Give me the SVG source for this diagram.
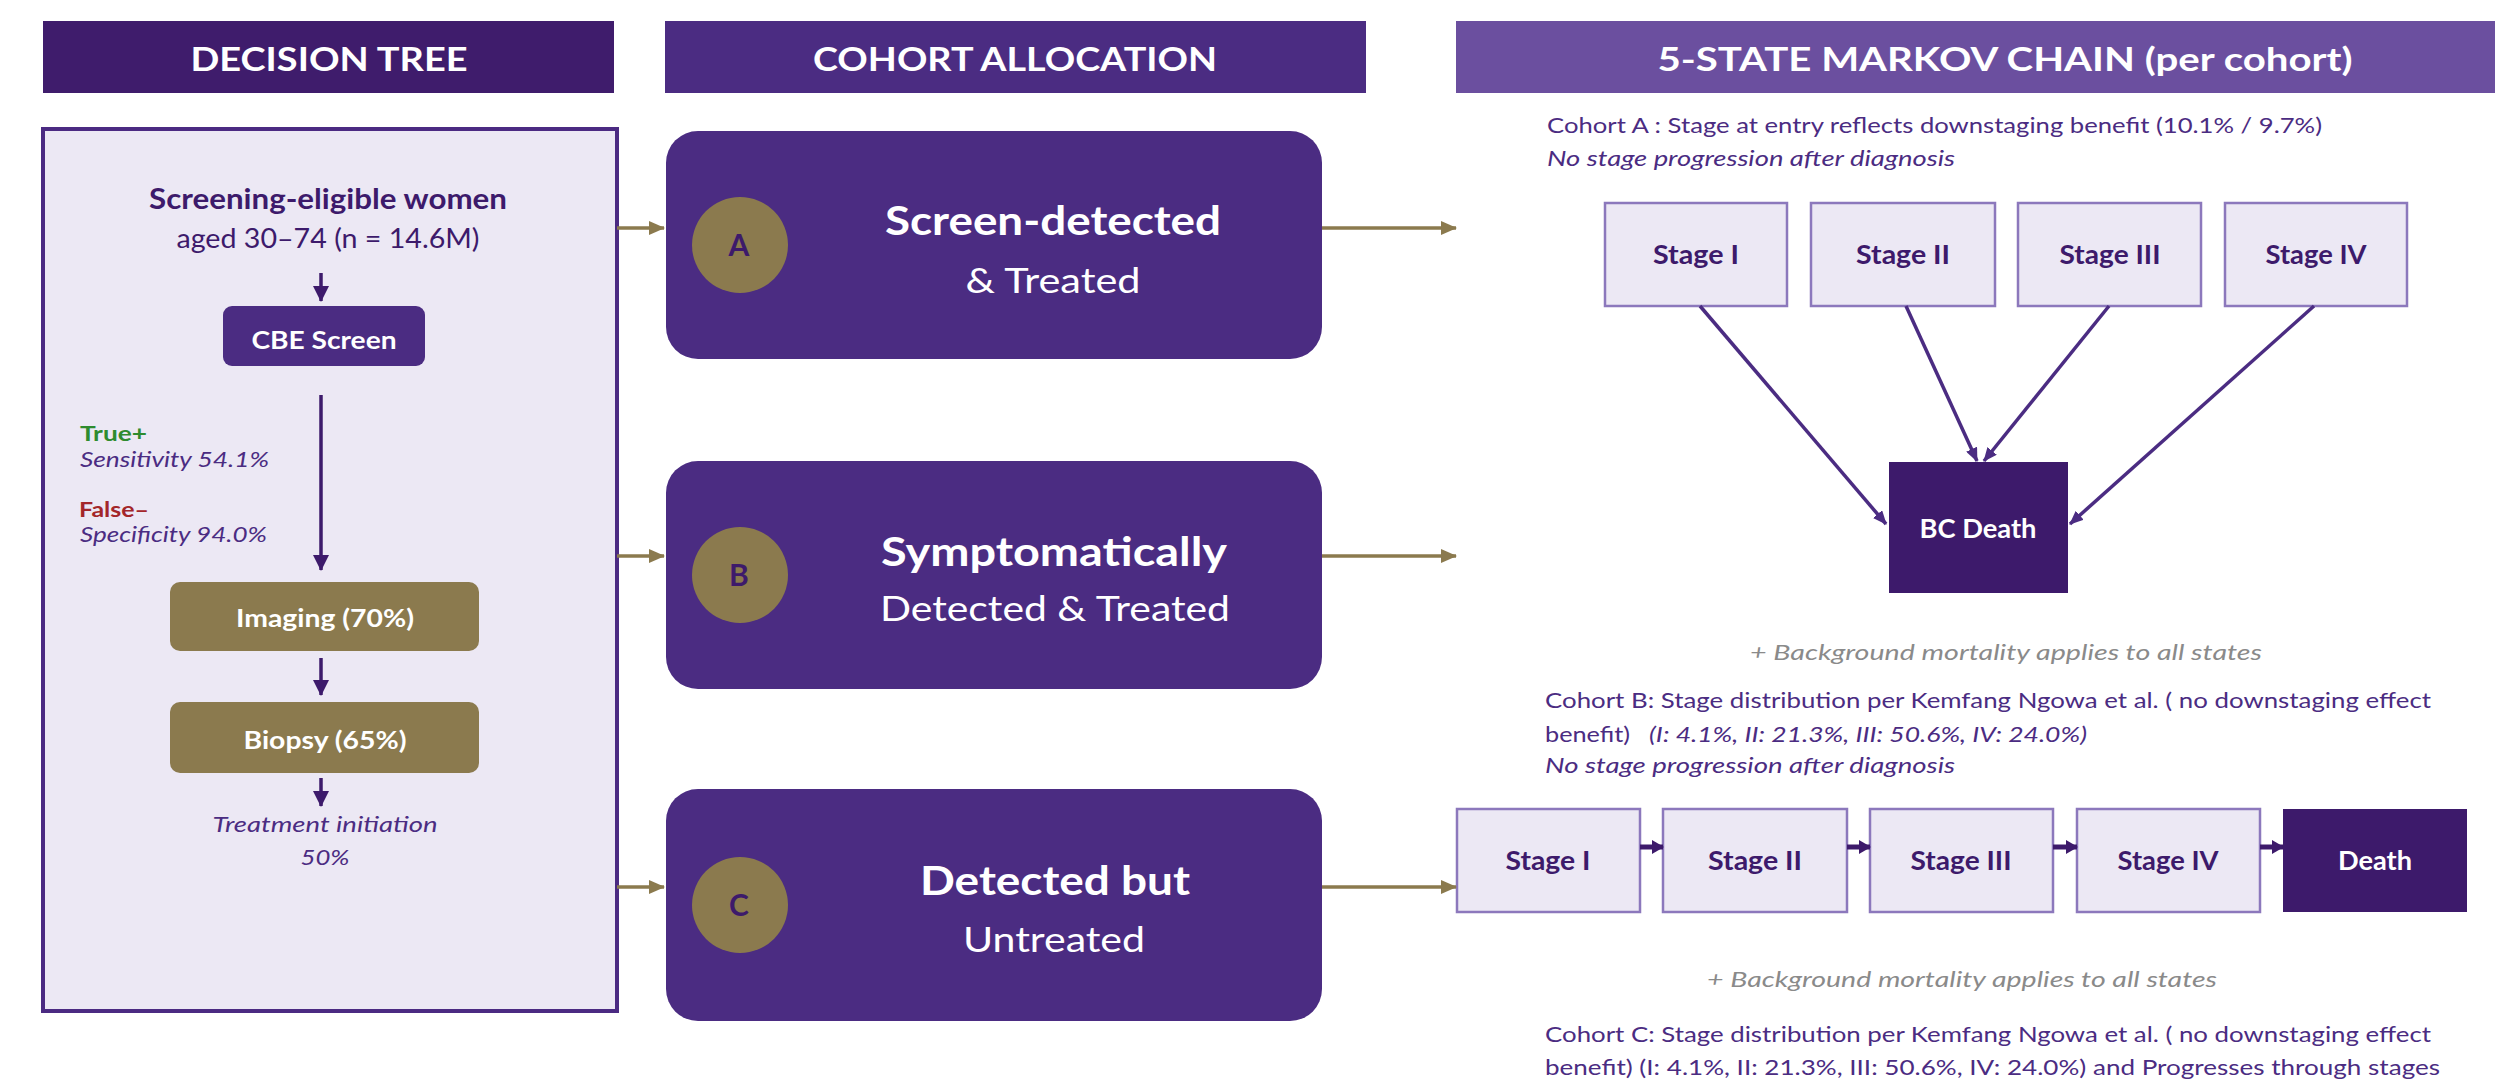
<svg xmlns="http://www.w3.org/2000/svg" width="2495" height="1079" viewBox="0 0 2495 1079">
  <style>
    text { font-family: Lato, "Open Sans", "Liberation Sans", sans-serif; }
    .hdr { font-weight: 700; font-size: 33px; fill: #ffffff; text-anchor: middle; }
    .panel { fill: #ECE8F4; stroke: #4B2A82; stroke-width: 4; }
    .tree-t { fill: #3D1A6B; text-anchor: middle; }
    .btn { fill: #4B2C82; }
    .olive { fill: #8B7A4E; }
    .wt { fill: #ffffff; text-anchor: middle; }
    .note { font-style: italic; font-size: 22px; fill: #4B2C82; }
    .cohort { fill: #4B2C82; }
    .circ { fill: #8B7A4E; }
    .letter { font-weight: 700; font-size: 30px; fill: #3D1A6B; text-anchor: middle; }
    .stage { fill: #ECE8F4; stroke: #8C78BC; stroke-width: 2.5; }
    .stage-t { font-weight: 700; font-size: 26px; fill: #3D1A6B; text-anchor: middle; }
    .dead { fill: #3D1A6B; }
    .dead-t { font-weight: 700; font-size: 26px; fill: #ffffff; text-anchor: middle; }
    .desc { font-size: 22px; fill: #4B2C82; }
    .desc-i { font-size: 22px; font-style: italic; fill: #4B2C82; }
    .bg { font-size: 22px; font-style: italic; fill: #8A8A8A; text-anchor: middle; }
    .lnk-olive { stroke: #8B7A4E; stroke-width: 3.5; fill: none; marker-end: url(#headOlive); }
    .lnk-tree { stroke: #3D1A6B; stroke-width: 3.5; fill: none; marker-end: url(#headTree); }
    .lnk-mk { stroke: #4B2C82; stroke-width: 3.5; fill: none; marker-end: url(#headMk); }
    .lnk-chain { stroke: #3D1A6B; stroke-width: 5; fill: none; marker-end: url(#headChain); }
  </style>
  <defs>
    <marker id="headOlive" markerUnits="userSpaceOnUse" markerWidth="16" markerHeight="14" refX="15" refY="7" orient="auto">
      <path d="M0,0 L16,7 L0,14 z" fill="#8B7A4E"/>
    </marker>
    <marker id="headTree" markerUnits="userSpaceOnUse" markerWidth="16" markerHeight="16" refX="15" refY="8" orient="auto">
      <path d="M0,0 L16,8 L0,16 z" fill="#3D1A6B"/>
    </marker>
    <marker id="headMk" markerUnits="userSpaceOnUse" markerWidth="14" markerHeight="12" refX="13" refY="6" orient="auto">
      <path d="M0,0 L14,6 L0,12 z" fill="#4B2C82"/>
    </marker>
    <marker id="headChain" markerUnits="userSpaceOnUse" markerWidth="12" markerHeight="14" refX="11" refY="7" orient="auto">
      <path d="M0,0 L12,7 L0,14 z" fill="#3D1A6B"/>
    </marker>
  </defs>

  <rect width="2495" height="1079" fill="#ffffff"/>

  <!-- column headers -->
  <g id="header-tree">
    <rect x="43" y="21" width="571" height="72" fill="#3F1C6C"/>
    <text class="hdr" x="329" y="71" textLength="277" lengthAdjust="spacingAndGlyphs">DECISION TREE</text>
  </g>
  <g id="header-cohort">
    <rect x="665" y="21" width="701" height="72" fill="#4B2C82"/>
    <text class="hdr" x="1015" y="71" textLength="404" lengthAdjust="spacingAndGlyphs">COHORT ALLOCATION</text>
  </g>
  <g id="header-markov">
    <rect x="1456" y="21" width="1039" height="72" fill="#6B4F9F"/>
    <text class="hdr" x="2005" y="71" textLength="695" lengthAdjust="spacingAndGlyphs">5-STATE MARKOV CHAIN  (per cohort)</text>
  </g>

  <!-- decision tree panel -->
  <g id="decision-tree">
    <rect class="panel" x="43" y="129" width="574" height="882"/>
    <text class="tree-t" x="328" y="209" font-size="28" font-weight="700" textLength="358" lengthAdjust="spacingAndGlyphs">Screening-eligible women</text>
    <text class="tree-t" x="328" y="248" font-size="26" textLength="303" lengthAdjust="spacingAndGlyphs">aged 30–74  (n = 14.6M)</text>
  </g>
  <g id="cbe-screen">
    <rect class="btn" x="223" y="306" width="202" height="60" rx="9"/>
    <text class="wt" x="324" y="349" font-size="24" font-weight="700" textLength="145" lengthAdjust="spacingAndGlyphs">CBE Screen</text>
  </g>
  <g id="test-accuracy">
    <text x="80" y="441" font-size="21" font-weight="700" fill="#2E8B2E" textLength="67" lengthAdjust="spacingAndGlyphs">True+</text>
    <text class="note" x="80" y="467" textLength="189" lengthAdjust="spacingAndGlyphs">Sensitivity 54.1%</text>
    <text x="79" y="517" font-size="21" font-weight="700" fill="#A3262A" textLength="70" lengthAdjust="spacingAndGlyphs">False–</text>
    <text class="note" x="80" y="542" textLength="187" lengthAdjust="spacingAndGlyphs">Specificity 94.0%</text>
  </g>
  <g id="imaging">
    <rect class="olive" x="170" y="582" width="309" height="69" rx="10"/>
    <text class="wt" x="325" y="627" font-size="24" font-weight="700" textLength="178" lengthAdjust="spacingAndGlyphs">Imaging  (70%)</text>
  </g>
  <g id="biopsy">
    <rect class="olive" x="170" y="702" width="309" height="71" rx="10"/>
    <text class="wt" x="325" y="749" font-size="24" font-weight="700" textLength="163" lengthAdjust="spacingAndGlyphs">Biopsy  (65%)</text>
  </g>
  <g id="treatment-initiation">
    <text class="note" x="325" y="832" text-anchor="middle" textLength="225" lengthAdjust="spacingAndGlyphs">Treatment initiation</text>
    <text class="note" x="325" y="865" text-anchor="middle" textLength="49" lengthAdjust="spacingAndGlyphs">50%</text>
  </g>

  <!-- cohort allocation -->
  <g id="cohort-a">
    <rect class="cohort" x="666" y="131" width="656" height="228" rx="32"/>
    <circle class="circ" cx="740" cy="245" r="48"/>
    <text class="letter" x="739" y="256">A</text>
    <text class="wt" x="1053" y="235" font-size="40" font-weight="700" textLength="336" lengthAdjust="spacingAndGlyphs">Screen-detected</text>
    <text class="wt" x="1053" y="293" font-size="34" textLength="175" lengthAdjust="spacingAndGlyphs">&amp; Treated</text>
  </g>
  <g id="cohort-b">
    <rect class="cohort" x="666" y="461" width="656" height="228" rx="32"/>
    <circle class="circ" cx="740" cy="575" r="48"/>
    <text class="letter" x="739" y="586">B</text>
    <text class="wt" x="1054" y="566" font-size="40" font-weight="700" textLength="346" lengthAdjust="spacingAndGlyphs">Symptomatically</text>
    <text class="wt" x="1055" y="621" font-size="34" textLength="350" lengthAdjust="spacingAndGlyphs">Detected &amp; Treated</text>
  </g>
  <g id="cohort-c">
    <rect class="cohort" x="666" y="789" width="656" height="232" rx="32"/>
    <circle class="circ" cx="740" cy="905" r="48"/>
    <text class="letter" x="739" y="916">C</text>
    <text class="wt" x="1055" y="895" font-size="40" font-weight="700" textLength="270" lengthAdjust="spacingAndGlyphs">Detected but</text>
    <text class="wt" x="1054" y="952" font-size="34" textLength="182" lengthAdjust="spacingAndGlyphs">Untreated</text>
  </g>

  <!-- Markov: cohort A -->
  <g id="markov-a-notes">
    <text class="desc" x="1547" y="133" textLength="775" lengthAdjust="spacingAndGlyphs">Cohort A : Stage at entry reflects downstaging benefit (10.1% / 9.7%)</text>
    <text class="desc-i" x="1547" y="166" textLength="408" lengthAdjust="spacingAndGlyphs">No stage progression after diagnosis</text>
  </g>
  <g id="a-stage-1">
    <rect class="stage" x="1605" y="203" width="182" height="103"/>
    <text class="stage-t" x="1696" y="264" textLength="86" lengthAdjust="spacingAndGlyphs">Stage I</text>
  </g>
  <g id="a-stage-2">
    <rect class="stage" x="1811" y="203" width="184" height="103"/>
    <text class="stage-t" x="1903" y="264" textLength="94" lengthAdjust="spacingAndGlyphs">Stage II</text>
  </g>
  <g id="a-stage-3">
    <rect class="stage" x="2018" y="203" width="183" height="103"/>
    <text class="stage-t" x="2110" y="264" textLength="101" lengthAdjust="spacingAndGlyphs">Stage III</text>
  </g>
  <g id="a-stage-4">
    <rect class="stage" x="2225" y="203" width="182" height="103"/>
    <text class="stage-t" x="2316" y="264" textLength="101" lengthAdjust="spacingAndGlyphs">Stage IV</text>
  </g>
  <g id="a-bc-death">
    <rect class="dead" x="1889" y="462" width="179" height="131"/>
    <text class="dead-t" x="1978" y="538" textLength="117" lengthAdjust="spacingAndGlyphs">BC Death</text>
  </g>
  <text class="bg" x="2006" y="660" textLength="512" lengthAdjust="spacingAndGlyphs">+ Background mortality applies to all states</text>

  <!-- Markov: cohort B -->
  <g id="markov-b-notes">
    <text class="desc" x="1545" y="708" textLength="886" lengthAdjust="spacingAndGlyphs">Cohort B: Stage distribution per Kemfang Ngowa et al. ( no downstaging effect</text>
    <text class="desc" x="1545" y="742" textLength="85" lengthAdjust="spacingAndGlyphs">benefit)</text>
    <text class="desc-i" x="1649" y="742" textLength="438" lengthAdjust="spacingAndGlyphs">(I: 4.1%, II: 21.3%, III: 50.6%, IV: 24.0%)</text>
    <text class="desc-i" x="1545" y="773" textLength="410" lengthAdjust="spacingAndGlyphs">No stage progression after diagnosis</text>
  </g>

  <!-- Markov: cohort C -->
  <g id="c-stage-1">
    <rect class="stage" x="1457" y="809" width="183" height="103"/>
    <text class="stage-t" x="1548" y="870" textLength="85" lengthAdjust="spacingAndGlyphs">Stage I</text>
  </g>
  <g id="c-stage-2">
    <rect class="stage" x="1663" y="809" width="184" height="103"/>
    <text class="stage-t" x="1755" y="870" textLength="94" lengthAdjust="spacingAndGlyphs">Stage II</text>
  </g>
  <g id="c-stage-3">
    <rect class="stage" x="1870" y="809" width="183" height="103"/>
    <text class="stage-t" x="1961" y="870" textLength="101" lengthAdjust="spacingAndGlyphs">Stage III</text>
  </g>
  <g id="c-stage-4">
    <rect class="stage" x="2077" y="809" width="183" height="103"/>
    <text class="stage-t" x="2168" y="870" textLength="101" lengthAdjust="spacingAndGlyphs">Stage IV</text>
  </g>
  <g id="c-death">
    <rect class="dead" x="2283" y="809" width="184" height="103"/>
    <text class="dead-t" x="2375" y="870" textLength="74" lengthAdjust="spacingAndGlyphs">Death</text>
  </g>
  <text class="bg" x="1962" y="987" textLength="510" lengthAdjust="spacingAndGlyphs">+ Background mortality applies to all states</text>
  <g id="markov-c-notes">
    <text class="desc" x="1545" y="1042" textLength="886" lengthAdjust="spacingAndGlyphs">Cohort C: Stage distribution per Kemfang Ngowa et al. ( no downstaging effect</text>
    <text class="desc" x="1545" y="1075" textLength="895" lengthAdjust="spacingAndGlyphs">benefit)  (I: 4.1%, II: 21.3%, III: 50.6%, IV: 24.0%) and Progresses through stages</text>
  </g>

  <!-- connectors -->
  <g id="connectors">
    <!-- decision tree flow -->
    <path class="lnk-tree" d="M321,273 L321,301"/>
    <path class="lnk-tree" d="M321,395 L321,570"/>
    <path class="lnk-tree" d="M321,658 L321,695"/>
    <path class="lnk-tree" d="M321,778 L321,806"/>
    <!-- tree to cohorts -->
    <path class="lnk-olive" d="M617,228 L664,228"/>
    <path class="lnk-olive" d="M617,556 L664,556"/>
    <path class="lnk-olive" d="M617,887 L664,887"/>
    <!-- cohorts to Markov chains -->
    <path class="lnk-olive" d="M1322,228 L1456,228"/>
    <path class="lnk-olive" d="M1322,556 L1456,556"/>
    <path class="lnk-olive" d="M1322,887 L1456,887"/>
    <!-- cohort A: stages to BC death -->
    <path class="lnk-mk" d="M1700,306 L1886,524"/>
    <path class="lnk-mk" d="M1906,306 L1977,461"/>
    <path class="lnk-mk" d="M2109,306 L1984,461"/>
    <path class="lnk-mk" d="M2314,306 L2070,524"/>
    <!-- cohort C: progression chain -->
    <path class="lnk-chain" d="M1640,847 L1663,847"/>
    <path class="lnk-chain" d="M1847,847 L1870,847"/>
    <path class="lnk-chain" d="M2053,847 L2077,847"/>
    <path class="lnk-chain" d="M2260,847 L2283,847"/>
  </g>
</svg>
